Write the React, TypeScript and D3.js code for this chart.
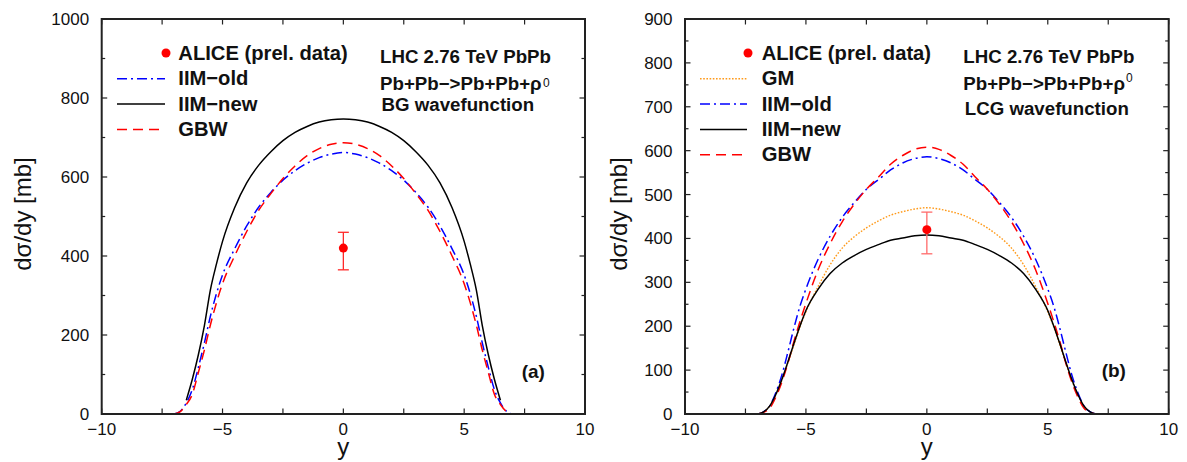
import React from 'react';
import * as d3 from 'd3';

// ---------- data ----------
const rapidity = [-7, -6.75, -6.5, -6.25, -6, -5.75, -5.5, -5.25, -5, -4.5, -4, -3.5, -3, -2.5, -2, -1.5, -1, -0.5, 0,
  0.5, 1, 1.5, 2, 2.5, 3, 3.5, 4, 4.5, 5, 5.25, 5.5, 5.75, 6, 6.25, 6.5, 6.75, 7];
const rapidityCut = [-6.5, -6.25, -6, -5.75, -5.5, -5.25, -5, -4.5, -4, -3.5, -3, -2.5, -2, -1.5, -1, -0.5, 0,
  0.5, 1, 1.5, 2, 2.5, 3, 3.5, 4, 4.5, 5, 5.25, 5.5, 5.75, 6, 6.25, 6.5];

// panel (a): BG wavefunction
const gbwA = [0, 6, 24, 50, 105, 162, 226, 282, 330, 400, 462, 516, 558, 596, 628, 654, 672, 683, 687,
  683, 672, 654, 628, 596, 558, 516, 462, 400, 330, 282, 226, 162, 105, 50, 24, 6, 0];
const iimOldA = [0, 7, 28, 62, 118, 180, 248, 305, 352, 418, 476, 524, 561, 592, 616, 635, 649, 658, 662,
  658, 649, 635, 616, 592, 561, 524, 476, 418, 352, 305, 248, 180, 118, 62, 28, 7, 0];
const iimNewA = [35, 88, 150, 224, 315, 380, 437, 522, 585, 630, 664, 692, 713, 728, 739, 745, 747,
  745, 739, 728, 713, 692, 664, 630, 585, 522, 437, 380, 315, 224, 150, 88, 35];

// panel (b): LCG wavefunction
const gmB = [0, 5, 18, 43, 76, 116, 157, 198, 233, 290, 340, 378, 404, 424, 440, 453, 461, 467, 470,
  467, 461, 453, 440, 424, 404, 378, 340, 290, 233, 198, 157, 116, 76, 43, 18, 5, 0];
const iimOldB = [0, 5, 18, 48, 88, 140, 195, 245, 285, 352, 405, 448, 482, 512, 534, 556, 572, 582, 586,
  582, 572, 556, 534, 512, 482, 448, 405, 352, 285, 245, 195, 140, 88, 48, 18, 5, 0];
const iimNewB = [0, 5, 18, 44, 78, 118, 160, 200, 236, 284, 320, 344, 361, 375, 386, 396, 401, 406, 408,
  406, 401, 396, 386, 375, 361, 344, 320, 284, 236, 200, 160, 118, 78, 44, 18, 5, 0];
const gbwB = [0, 4, 13, 38, 72, 115, 165, 210, 252, 328, 388, 438, 478, 512, 540, 569, 589, 603, 608,
  603, 589, 569, 540, 512, 478, 438, 388, 328, 252, 210, 165, 115, 72, 38, 13, 4, 0];

// ALICE preliminary point
const aliceY = [0];
const aliceValue = [420];
const aliceLow = [365];
const aliceHigh = [460];

// ticks
const xMajorTicks = [-10, -5, 0, 5, 10];
const xMinorTicks = [-7.5, -2.5, 2.5, 7.5];
const yMajorTicksA = [0, 200, 400, 600, 800, 1000];
const yMinorTicksA = [100, 300, 500, 700, 900];
const yMajorTicksB = [0, 100, 200, 300, 400, 500, 600, 700, 800, 900];
const yMinorTicksB = [50, 150, 250, 350, 450, 550, 650, 750, 850];

const legendA = ['IIM−old', 'IIM−new', 'GBW'];
const legendB = ['GM', 'IIM−old', 'IIM−new', 'GBW'];

const FONT = "'Liberation Sans', Arial, Helvetica, sans-serif";

const STYLES: Record<string, { stroke: string; dash?: string; width: number }> = {
  'GM': { stroke: '#ff9a1a', dash: '1.6,1.6', width: 1.4 },
  'IIM−old': { stroke: '#0000ff', dash: '10,4,2,4', width: 1.5 },
  'IIM−new': { stroke: '#000000', width: 1.5 },
  'GBW': { stroke: '#ff0000', dash: '10,6', width: 1.5 },
};

type Series = { name: string; xs: number[]; ys: number[] };

type PanelProps = {
  id: string;
  left: number; right: number; top: number; bottom: number;
  yMax: number;
  yMajor: number[]; yMinor: number[];
  series: Series[];
  legend: string[];
  legendTextX: number; legendLineX0: number; legendLineX1: number;
  annotX: number; annotLines: string[]; supY: number; supX: number;
  label: string; labelX: number; labelY: number;
  yTitleX: number;
  errColor: string;
};

function Panel(p: PanelProps) {
  const x = d3.scaleLinear().domain([-10, 10]).range([p.left, p.right]);
  const y = d3.scaleLinear().domain([0, p.yMax]).range([p.bottom, p.top]);
  const line = d3.line<[number, number]>().x(d => x(d[0])).y(d => y(d[1])).curve(d3.curveMonotoneX);
  const majorLen = 5.5, minorLen = 3.5;
  const rowH = 25.3;
  const firstBase = 60;
  return (
    <g>
      <defs>
        <clipPath id={`clip-${p.id}`}>
          <rect x={p.left} y={p.top} width={p.right - p.left} height={p.bottom - p.top} />
        </clipPath>
      </defs>
      {/* curves */}
      <g clipPath={`url(#clip-${p.id})`}>
        {p.series.map(s => {
          const st = STYLES[s.name];
          const pts = s.xs.map((v, i) => [v, s.ys[i]] as [number, number]);
          return <path key={s.name} d={line(pts) || ''} fill="none" stroke={st.stroke}
            strokeWidth={st.width} strokeDasharray={st.dash} />;
        })}
      </g>
      {/* ALICE point */}
      {aliceY.map((v, i) => (
        <g key={i}>
          <line x1={x(v)} x2={x(v)} y1={y(aliceLow[i])} y2={y(aliceHigh[i])} stroke={p.errColor} strokeWidth={1.3} />
          <line x1={x(v) - 5.5} x2={x(v) + 5.5} y1={y(aliceLow[i])} y2={y(aliceLow[i])} stroke={p.errColor} strokeWidth={1.3} />
          <line x1={x(v) - 5.5} x2={x(v) + 5.5} y1={y(aliceHigh[i])} y2={y(aliceHigh[i])} stroke={p.errColor} strokeWidth={1.3} />
          <circle cx={x(v)} cy={y(aliceValue[i])} r={4.5} fill="#ff0000" />
        </g>
      ))}
      {/* frame */}
      <rect x={p.left} y={p.top} width={p.right - p.left} height={p.bottom - p.top} fill="none" stroke="#222" strokeWidth={2} />
      {/* x ticks */}
      {xMajorTicks.map(t => (
        <g key={'xm' + t}>
          <line x1={x(t)} x2={x(t)} y1={p.bottom} y2={p.bottom - majorLen} stroke="#222" strokeWidth={1.2} />
          <line x1={x(t)} x2={x(t)} y1={p.top} y2={p.top + majorLen} stroke="#222" strokeWidth={1.2} />
          <text x={x(t)} y={435} textAnchor="middle" fontSize={17} fontFamily={FONT} fill="#111">
            {t < 0 ? '−' + Math.abs(t) : String(t)}
          </text>
        </g>
      ))}
      {xMinorTicks.map(t => (
        <g key={'xn' + t}>
          <line x1={x(t)} x2={x(t)} y1={p.bottom} y2={p.bottom - majorLen} stroke="#222" strokeWidth={1.2} />
          <line x1={x(t)} x2={x(t)} y1={p.top} y2={p.top + majorLen} stroke="#222" strokeWidth={1.2} />
        </g>
      ))}
      {/* y ticks */}
      {p.yMajor.map(t => (
        <g key={'ym' + t}>
          <line x1={p.left} x2={p.left + majorLen} y1={y(t)} y2={y(t)} stroke="#222" strokeWidth={1.2} />
          <line x1={p.right} x2={p.right - majorLen} y1={y(t)} y2={y(t)} stroke="#222" strokeWidth={1.2} />
          <text x={p.left - 12.5} y={y(t) + 6} textAnchor="end" fontSize={17} fontFamily={FONT} fill="#111">{t}</text>
        </g>
      ))}
      {p.yMinor.map(t => (
        <g key={'yn' + t}>
          <line x1={p.left} x2={p.left + minorLen} y1={y(t)} y2={y(t)} stroke="#222" strokeWidth={1.2} />
          <line x1={p.right} x2={p.right - minorLen} y1={y(t)} y2={y(t)} stroke="#222" strokeWidth={1.2} />
        </g>
      ))}
      {/* axis titles */}
      <text transform={`translate(${p.yTitleX},214) rotate(-90)`} textAnchor="middle" fontSize={24} fontFamily={FONT} fill="#111">dσ/dy [mb]</text>
      <text x={(p.left + p.right) / 2} y={455} textAnchor="middle" fontSize={24} fontFamily={FONT} fill="#111">y</text>
      {/* legend */}
      <circle cx={p.legendLineX1 + 1} cy={firstBase - 7} r={4.5} fill="#ff0000" />
      <text x={p.legendTextX} y={firstBase} fontSize={20.2} fontWeight="bold" fontFamily={FONT} fill="#111">ALICE (prel. data)</text>
      {p.legend.map((name, i) => {
        const st = STYLES[name];
        const base = firstBase + rowH * (i + 1);
        return (
          <g key={'lg' + name}>
            <line x1={p.legendLineX0} x2={p.legendLineX1} y1={base - 6.5} y2={base - 6.5} stroke={st.stroke}
              strokeWidth={st.width} strokeDasharray={st.dash} />
            <text x={p.legendTextX} y={base} fontSize={20.2} fontWeight="bold" fontFamily={FONT} fill="#111">{name}</text>
          </g>
        );
      })}
      {/* annotations */}
      {p.annotLines.map((s, i) => (
        <text key={'an' + i} x={p.annotX + (i === 2 ? 1.5 : 0)} y={[63, 90, p.id === 'a' ? 111 : 115][i]}
          fontSize={18.7} fontWeight="bold" fontFamily={FONT} fill="#111">{s}</text>
      ))}
      <text x={p.supX} y={p.supY} fontSize={12} fontFamily={FONT} fill="#111">0</text>
      <text x={p.labelX} y={p.labelY} fontSize={19} fontWeight="bold" fontFamily={FONT} fill="#111">{p.label}</text>
    </g>
  );
}

export default function App() {
  return (
    <svg width={1187} height={462} style={{ position: 'absolute', left: 0, top: 0, background: '#fff' }}>
      <rect x={0} y={0} width={1187} height={462} fill="#fff" />
      <Panel id="a" left={101.7} right={585} top={19} bottom={414} yMax={1000}
        yMajor={yMajorTicksA} yMinor={yMinorTicksA}
        series={[
          { name: 'IIM−old', xs: rapidity, ys: iimOldA },
          { name: 'GBW', xs: rapidity, ys: gbwA },
          { name: 'IIM−new', xs: rapidityCut, ys: iimNewA },
        ]}
        legend={legendA} legendTextX={178.3} legendLineX0={117} legendLineX1={165}
        annotX={380} annotLines={['LHC 2.76 TeV PbPb', 'Pb+Pb−>Pb+Pb+ρ', 'BG wavefunction']}
        supX={543} supY={87}
        label="(a)" labelX={521.7} labelY={378} yTitleX={31} errColor="#ff2a2a" />
      <Panel id="b" left={685} right={1168.7} top={19} bottom={414} yMax={900}
        yMajor={yMajorTicksB} yMinor={yMinorTicksB}
        series={[
          { name: 'GM', xs: rapidity, ys: gmB },
          { name: 'IIM−old', xs: rapidity, ys: iimOldB },
          { name: 'GBW', xs: rapidity, ys: gbwB },
          { name: 'IIM−new', xs: rapidity, ys: iimNewB },
        ]}
        legend={legendB} legendTextX={761.7} legendLineX0={700} legendLineX1={747}
        annotX={963.3} annotLines={['LHC 2.76 TeV PbPb', 'Pb+Pb−>Pb+Pb+ρ', 'LCG wavefunction']}
        supX={1126} supY={82}
        label="(b)" labelX={1101.7} labelY={377} yTitleX={627} errColor="#ff6a6a" />
    </svg>
  );
}
